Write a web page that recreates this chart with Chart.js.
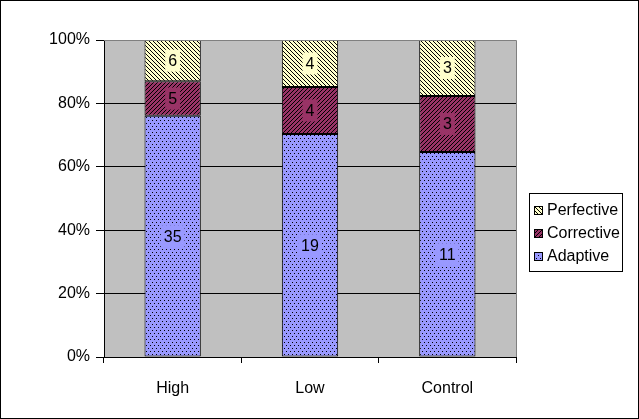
<!DOCTYPE html>
<html><head><meta charset="utf-8">
<script src="https://cdn.jsdelivr.net/npm/chart.js@4/dist/chart.umd.min.js"></script>
<style>html,body{margin:0;padding:0;background:#fff}#wrap{width:639px;height:419px;position:relative}</style>
</head><body><div id="wrap"><canvas id="c" width="639" height="419"></canvas></div>
<script>
// Maintenance activity counts per group
const categories = ['High', 'Low', 'Control'];
const adaptive   = [35, 19, 11];
const corrective = [5, 4, 3];
const perfective = [6, 4, 3];
const yTicks     = [0, 20, 40, 60, 80, 100];

const FONT = 'Liberation Sans, Arial, sans-serif';
const FSIZE = 16;

const canvas = document.getElementById('c');
const ctx = canvas.getContext('2d');

// small repeating fill textures
function makePattern(base, w, h, paint) {
  const t = document.createElement('canvas');
  t.width = w; t.height = h;
  const g = t.getContext('2d');
  g.fillStyle = base; g.fillRect(0, 0, w, h);
  g.fillStyle = '#000';
  paint(g);
  return ctx.createPattern(t, 'repeat');
}
const dots = g => { g.fillRect(0, 0, 1, 1); g.fillRect(2, 3, 1, 1); };
const up   = g => { for (let r = 0; r < 4; r++) g.fillRect(3 - r, r, 1, 1); };
const down = g => { for (let r = 0; r < 4; r++) g.fillRect(r, r, 1, 1); };

const totals = categories.map((_, i) => adaptive[i] + corrective[i] + perfective[i]);
const toPct = arr => arr.map((v, i) => v / totals[i] * 100);

const series = [
  { label: 'Adaptive',   counts: adaptive,   solid: '#9999FF', tile: [4, 6], paint: dots },
  { label: 'Corrective', counts: corrective, solid: '#993366', tile: [4, 4], paint: up },
  { label: 'Perfective', counts: perfective, solid: '#FFFFCC', tile: [4, 4], paint: down }
];

const datasets = series.map(s => ({
  label: s.label,
  data: toPct(s.counts),
  counts: s.counts,
  solid: s.solid,
  backgroundColor: makePattern(s.solid, s.tile[0], s.tile[1], s.paint),
  borderColor: '#000',
  borderWidth: 1,
  borderSkipped: false,
  barPercentage: 0.41,
  categoryPercentage: 1
}));

// gray plot background and its gray top/right edges
const plotFrame = {
  id: 'plotFrame',
  beforeDraw(chart) {
    const { ctx, chartArea: a } = chart;
    ctx.save();
    ctx.fillStyle = '#fff';
    ctx.fillRect(0, 0, chart.width, chart.height);
    ctx.fillStyle = '#C0C0C0';
    ctx.fillRect(a.left, a.top, a.right - a.left, a.bottom - a.top);
    ctx.strokeStyle = '#000';
    ctx.lineWidth = 1;
    ctx.strokeRect(0.5, 0.5, chart.width - 1, chart.height - 1);
    ctx.restore();
  },
  afterDatasetsDraw(chart) {
    const { ctx, chartArea: a } = chart;
    ctx.save();
    ctx.strokeStyle = '#808080';
    ctx.lineWidth = 1;
    ctx.beginPath();
    ctx.moveTo(a.left, Math.round(a.top) + 0.5);
    ctx.lineTo(Math.round(a.right) + 0.5, Math.round(a.top) + 0.5);
    ctx.lineTo(Math.round(a.right) + 0.5, a.bottom);
    ctx.stroke();
    ctx.restore();
  }
};

// count labels centred in each segment on a plain backing
const segLabels = {
  id: 'segLabels',
  afterDatasetsDraw(chart) {
    const { ctx } = chart;
    ctx.save();
    ctx.font = FSIZE + 'px ' + FONT;
    ctx.textAlign = 'center';
    ctx.textBaseline = 'middle';
    chart.data.datasets.forEach((ds, i) => {
      chart.getDatasetMeta(i).data.forEach((bar, j) => {
        const txt = String(ds.counts[j]);
        const cy = (bar.y + bar.base) / 2;
        const w = ctx.measureText(txt).width;
        ctx.fillStyle = ds.solid;
        ctx.fillRect(bar.x - w / 2 - 3, cy - 11, w + 6, 22);
        ctx.fillStyle = '#000';
        ctx.fillText(txt, bar.x, cy + 1);
      });
    });
    ctx.restore();
  }
};

// boxed legend, top series first
const boxLegend = {
  id: 'boxLegend',
  afterDraw(chart) {
    const { ctx } = chart;
    const items = chart.data.datasets.slice().reverse();
    const x0 = 529, y0 = 193, w = 93, rowH = 23, h = 78;
    ctx.save();
    ctx.fillStyle = '#fff';
    ctx.fillRect(x0, y0, w, h);
    ctx.strokeStyle = '#000';
    ctx.lineWidth = 1;
    ctx.strokeRect(x0 + 0.5, y0 + 0.5, w, h);
    ctx.font = FSIZE + 'px ' + FONT;
    ctx.textBaseline = 'middle';
    items.forEach((ds, k) => {
      const cy = y0 + 17 + k * rowH;
      ctx.fillStyle = ds.backgroundColor;
      ctx.fillRect(x0 + 5, cy - 4, 9, 9);
      ctx.strokeStyle = '#000';
      ctx.strokeRect(x0 + 5.5, cy - 3.5, 8, 8);
      ctx.fillStyle = '#000';
      ctx.fillText(ds.label, x0 + 18, cy + 1);
    });
    ctx.restore();
  }
};

new Chart(canvas, {
  type: 'bar',
  data: { labels: categories, datasets },
  options: {
    responsive: false,
    animation: false,
    layout: { padding: { left: 0, top: 40, right: 123, bottom: 0 } },
    plugins: { legend: { display: false }, tooltip: { enabled: false } },
    scales: {
      x: {
        stacked: true,
        afterFit: s => { s.height = 62; },
        border: { color: '#000', width: 1 },
        grid: { offset: true, drawOnChartArea: false, drawTicks: true, tickLength: 6, color: '#000' },
        ticks: { color: '#000', padding: 16, font: { family: FONT, size: FSIZE } }
      },
      y: {
        stacked: true,
        min: 0, max: 100,
        afterFit: s => { s.width = 104; },
        afterBuildTicks: s => { s.ticks = yTicks.map(v => ({ value: v })); },
        border: { color: '#000', width: 1 },
        grid: {
          color: c => (c.tick && c.tick.value === 100) ? '#808080' : '#000',
          tickColor: '#000',
          tickLength: 8,
          drawTicks: true
        },
        ticks: { color: '#000', padding: 6, callback: v => v + '%', font: { family: FONT, size: FSIZE } }
      }
    }
  },
  plugins: [plotFrame, segLabels, boxLegend]
});
</script>
</body></html>
